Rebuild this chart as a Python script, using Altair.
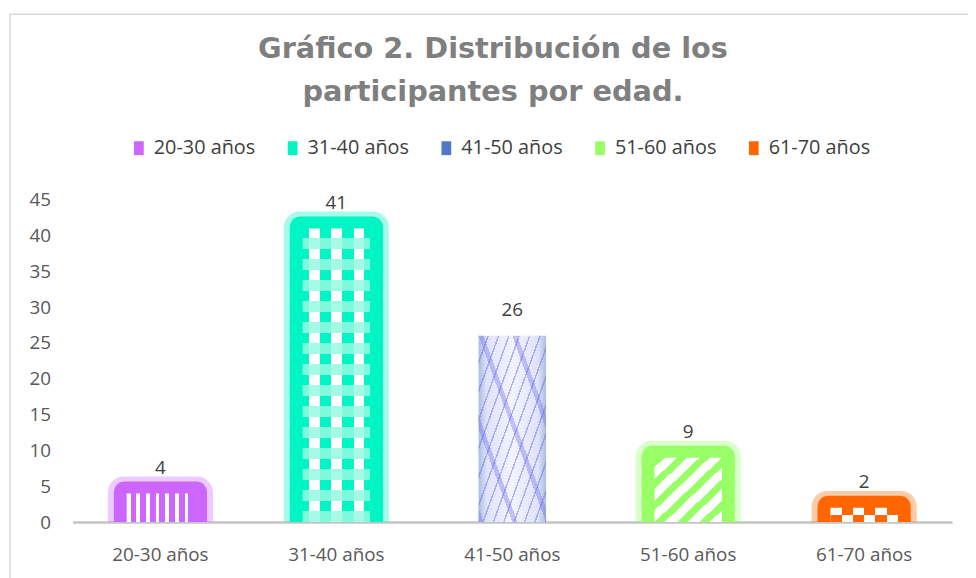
import altair as alt
import pandas as pd

categories = ["20-30 años", "31-40 años", "41-50 años", "51-60 años", "61-70 años"]
values = [4, 41, 26, 9, 2]
colors = ["#cc66ff", "#00f5c4", "#4f78c8", "#99ff66", "#ff6600"]
title_lines = ["Gráfico 2. Distribución de los", "participantes por edad."]

df = pd.DataFrame({"cat": categories, "val": values})
FONT = "Open Sans"
W, H = 887, 325


def stripes(c_a, c_b, n, frac_a, x2=1.0, y2=0.0, y1=0.0, x1=0.0):
    stops = []
    for i in range(n):
        s = i / n
        m = (i + frac_a) / n
        e = (i + 1) / n
        stops += [
            {"offset": s, "color": c_a},
            {"offset": m, "color": c_a},
            {"offset": m, "color": c_b},
            {"offset": e, "color": c_b},
        ]
    return alt.LinearGradient(gradient="linear", stops=stops, x1=x1, y1=y1, x2=x2, y2=y2)


x_enc = alt.X(
    "cat:N",
    sort=categories,
    scale=alt.Scale(domain=categories, paddingInner=0, paddingOuter=0),
    axis=alt.Axis(
        title=None, labelAngle=0, ticks=False, labelFont=FONT, labelFontSize=19,
        labelColor="#595959", labelPadding=24, domainColor="#c4c4c4", domainWidth=2.5,
        grid=False,
    ),
)
y_enc = alt.Y(
    "val:Q",
    scale=alt.Scale(domain=[0, 45], nice=False),
    axis=alt.Axis(
        title=None, values=list(range(0, 50, 5)), ticks=False, domain=False, grid=False,
        labelFont=FONT, labelFontSize=19, labelColor="#595959", labelPadding=22,
    ),
)
color_enc = alt.Color(
    "cat:N",
    scale=alt.Scale(domain=categories, range=colors),
    legend=alt.Legend(
        title=None, orient="none", legendX=57, legendY=-62, direction="horizontal",
        columns=5, columnPadding=27, labelFont=FONT, labelFontSize=20,
        labelColor="#404040", symbolType="M-0.7,-1H0.7V1H-0.7Z", symbolSize=196,
        symbolOpacity=1, symbolStrokeWidth=0, labelOffset=5,
    ),
)

glow_df = df[df["cat"] != "41-50 años"]
base = alt.Chart(df)

border = alt.Chart(pd.DataFrame({"a": [0]})).mark_rect(
    fillOpacity=0, stroke="#d9d9d9", strokeWidth=1.5
).encode(x=alt.value(-63), y=alt.value(-187), x2=alt.value(W + 40), y2=alt.value(H + 80))

title_df = pd.DataFrame({"line": title_lines})
title_layers = []
for i, ypos in enumerate([-152, -109]):
    title_layers.append(
        alt.Chart(title_df.iloc[[i]]).mark_text(
            font="DejaVu Sans", fontSize=29, fontWeight="bold", color="#7f7f7f",
            align="center", baseline="middle",
        ).encode(x=alt.value(424), y=alt.value(ypos), text="line:N")
    )

glow_outer = alt.Chart(glow_df).mark_bar(
    size=106, cornerRadiusTopLeft=16, cornerRadiusTopRight=16, yOffset=-17, opacity=0.35
).encode(x=x_enc, y=y_enc, y2=alt.datum(0), fill=color_enc)

glow_mid = alt.Chart(glow_df).mark_bar(
    size=94, cornerRadiusTopLeft=11, cornerRadiusTopRight=11, yOffset=-12, opacity=1
).encode(x=x_enc, y=y_enc, y2=alt.datum(0), fill=color_enc)

inner_fills = {
    "20-30 años": [stripes("#ffffff", "#cc66ff", 7, 0.4)],
    "31-40 años": [
        alt.LinearGradient(gradient="linear", x1=0, y1=0, x2=1, y2=0, stops=[
            {"offset": 0.0, "color": "#00f5c4"}, {"offset": 0.09, "color": "#00f5c4"},
            {"offset": 0.09, "color": "#ffffff"}, {"offset": 0.26, "color": "#ffffff"},
            {"offset": 0.26, "color": "#00f5c4"}, {"offset": 0.42, "color": "#00f5c4"},
            {"offset": 0.42, "color": "#ffffff"}, {"offset": 0.59, "color": "#ffffff"},
            {"offset": 0.59, "color": "#00f5c4"}, {"offset": 0.76, "color": "#00f5c4"},
            {"offset": 0.76, "color": "#ffffff"}, {"offset": 0.91, "color": "#ffffff"},
            {"offset": 0.91, "color": "#00f5c4"}, {"offset": 1.0, "color": "#00f5c4"},
        ]),
        stripes("rgba(0,0,0,0)", "rgba(150,250,225,0.85)", 14, 0.45, x2=0, y2=1),
    ],
    "41-50 años": [
        alt.LinearGradient(gradient="linear", x1=0, y1=0, x2=1, y2=0, stops=[
            {"offset": 0.0, "color": "#a9bce3"}, {"offset": 0.12, "color": "#dfe3f8"},
            {"offset": 0.5, "color": "#f2f3fd"}, {"offset": 0.88, "color": "#dfe3f8"},
            {"offset": 1.0, "color": "#a9bce3"},
        ]),
        stripes("rgba(0,0,0,0)", "rgba(100,100,235,0.45)", 13, 0.85, x1=0, y1=0, x2=1, y2=1),
        stripes("rgba(0,0,0,0)", "rgba(100,100,235,0.35)", 4, 0.85, x1=1, y1=0, x2=0, y2=1),
    ],
    "51-60 años": [stripes("#99ff66", "#ffffff", 6, 0.45, x2=1, y2=1)],
    "61-70 años": [stripes("#ffffff", "#ff6600", 3, 0.5)],
}

inner_layers = []
for cat in categories:
    for g in inner_fills[cat]:
        inner_layers.append(
            base.transform_filter(alt.datum.cat == cat)
            .mark_bar(size=68, fill=g)
            .encode(x=x_enc, y=y_enc, y2=alt.datum(0))
        )

# lower row of the orange checker, shifted by half a period
orange_low = (
    base.transform_filter(alt.datum.cat == "61-70 años")
    .transform_calculate(val="datum.val / 2")
    .mark_bar(size=68, fill=stripes("#ff6600", "#ffffff", 3, 0.5))
    .encode(x=x_enc, y=y_enc, y2=alt.datum(0))
)

labels = base.mark_text(
    baseline="bottom", dy=-16, font=FONT, fontSize=19, color="#404040"
).encode(x=x_enc, y=y_enc, text="val:Q")

chart = alt.layer(
    border, *title_layers, glow_outer, glow_mid, *inner_layers, orange_low, labels
).properties(
    width=W,
    height=H,
    background="white",
    autosize=alt.AutoSizeParams(type="none"),
    padding={"left": 65, "top": 191, "right": 16, "bottom": 54},
).configure_view(strokeWidth=0, strokeOpacity=0)

chart.save("out.html", embed_options={"renderer": "svg", "actions": False})
